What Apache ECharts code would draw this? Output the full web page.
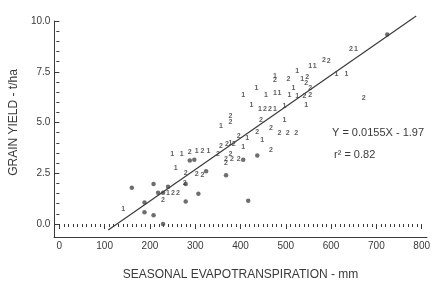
<!DOCTYPE html>
<html>
<head>
<meta charset="utf-8">
<script src="https://cdn.jsdelivr.net/npm/echarts@6/dist/echarts.min.js"></script>
<style>
  html, body { margin: 0; padding: 0; background: #fff; }
  #chart { width: 433px; height: 286px; }
</style>
</head>
<body>
<div id="chart"></div>
<script>
// tick labels
const xTicks = [0, 100, 200, 300, 400, 500, 600, 700, 800]
const yTicks = [0, 2.5, 5, 7.5, 10]

// filled dots
const dotX = [160, 188, 188, 208, 208, 229, 240, 279, 279, 307, 324, 368, 406, 437, 417, 288, 298, 724, 218, 229]
const dotY = [1.78, 1.06, 0.58, 0.43, 1.97, 0.0, 1.83, 1.97, 1.11, 1.49, 2.6, 2.4, 3.17, 3.37, 1.15, 3.13, 3.17, 9.33, 1.54, 1.54]

// points drawn as "1"
const oneX = [141, 249, 270, 257, 240, 357, 378, 415, 406, 448, 443, 476, 497, 435, 406, 456, 476, 486, 424, 497, 476, 525, 554, 564, 536, 508, 517, 525, 545, 612, 634, 655, 303, 329]
const oneY = [0.72, 3.46, 3.46, 2.74, 1.54, 4.81, 3.99, 4.23, 3.8, 4.13, 5.67, 5.67, 5.1, 6.68, 6.35, 6.35, 6.44, 6.44, 5.87, 5.82, 7.31, 7.55, 7.79, 7.79, 7.16, 6.35, 6.68, 6.3, 5.87, 7.4, 7.4, 8.6, 3.6, 3.6]

// points drawn as "2"
const twoX = [229, 279, 303, 316, 251, 262, 277, 288, 316, 350, 357, 370, 385, 396, 378, 368, 381, 396, 368, 378, 378, 445, 437, 467, 486, 504, 523, 467, 454, 465, 476, 506, 547, 545, 541, 554, 554, 584, 595, 644, 672]
const twoY = [1.2, 2.5, 2.45, 2.4, 1.54, 1.54, 2.02, 3.56, 3.6, 3.46, 3.85, 3.94, 3.94, 4.33, 3.46, 3.22, 3.22, 3.22, 2.98, 5.34, 5.0, 5.1, 4.52, 4.71, 4.47, 4.47, 4.47, 3.65, 5.67, 5.67, 7.07, 7.16, 7.26, 6.92, 6.3, 6.68, 6.35, 8.08, 8.03, 8.6, 6.2]

// fitted line ends
const fitX = [108, 788]
const fitY = [-0.3, 10.25]

const pairs = (xs, ys) => xs.map((x, i) => [x, ys[i]])

const ink = '#3a3a3a'
const narrow = '"Liberation Sans Narrow", "Arial Narrow", sans-serif'
const sans = '"Liberation Sans", Arial, sans-serif'

const chartDom = document.getElementById('chart')
const myChart = echarts.init(chartDom)

const digitSeries = (xs, ys, txt) => ({
  type: 'scatter',
  data: pairs(xs, ys),
  symbolSize: 2,
  itemStyle: { color: 'rgba(0,0,0,0)' },
  label: {
    show: true,
    position: 'inside',
    formatter: txt,
    fontSize: 7,
    fontWeight: 'bold',
    fontFamily: narrow,
    color: '#333'
  },
  silent: true
})

const option = {
  animation: false,
  // grid 0 holds the data, grid 1 only draws the axis lines that meet at the corner
  grid: [
    { left: 57, right: 6, top: 21, bottom: 57 },
    { left: 54, right: 6, top: 21, bottom: 49 }
  ],
  xAxis: [
    {
      gridIndex: 0, type: 'value', min: 0, max: 800, interval: 100, offset: 8,
      splitLine: { show: false },
      axisLine: { show: false },
      axisTick: { show: true, length: 5, lineStyle: { color: ink } },
      minorTick: { show: true, splitNumber: 10, length: 3, lineStyle: { color: ink } },
      axisLabel: {
        color: ink, fontSize: 10, fontFamily: narrow, margin: 9,
        formatter: v => xTicks.includes(v) ? String(v) : ''
      },
      name: 'SEASONAL EVAPOTRANSPIRATION - mm',
      nameLocation: 'middle',
      nameGap: 37,
      nameTextStyle: { color: ink, fontSize: 12, fontFamily: sans }
    },
    {
      gridIndex: 1, type: 'value', min: 0, max: 1,
      splitLine: { show: false },
      axisLine: { lineStyle: { color: ink, width: 1 } },
      axisTick: { show: false },
      axisLabel: { show: false }
    }
  ],
  yAxis: [
    {
      gridIndex: 0, type: 'value', min: 0, max: 10, interval: 2.5, offset: 3,
      splitLine: { show: false },
      axisLine: { show: false },
      axisTick: { show: true, length: 5, lineStyle: { color: ink } },
      minorTick: { show: true, splitNumber: 5, length: 3, lineStyle: { color: ink } },
      axisLabel: {
        color: ink, fontSize: 10, fontFamily: narrow, margin: 6,
        formatter: v => yTicks.includes(v) ? v.toFixed(1) : ''
      },
      name: 'GRAIN YIELD - t/ha',
      nameLocation: 'middle',
      nameGap: 22,
      nameTextStyle: { color: ink, fontSize: 12, fontFamily: sans }
    },
    {
      gridIndex: 1, type: 'value', min: 0, max: 1,
      splitLine: { show: false },
      axisLine: { show: true, lineStyle: { color: ink, width: 1 } },
      axisTick: { show: false },
      axisLabel: { show: false }
    }
  ],
  graphic: [
    {
      type: 'text', left: 332, top: 127,
      style: { text: 'Y = 0.0155X - 1.97', fontSize: 11, fill: ink, fontFamily: sans }
    },
    {
      type: 'text', left: 334, top: 149,
      style: { text: 'r² = 0.82', fontSize: 11, fill: ink, fontFamily: sans }
    }
  ],
  series: [
    {
      type: 'line',
      data: pairs(fitX, fitY),
      showSymbol: false,
      clip: false,
      lineStyle: { color: ink, width: 1.2 },
      silent: true
    },
    {
      type: 'scatter',
      data: pairs(dotX, dotY),
      symbolSize: 4.5,
      itemStyle: { color: '#4a4a4a' },
      silent: true
    },
    digitSeries(oneX, oneY, '1'),
    digitSeries(twoX, twoY, '2')
  ]
}
option && myChart.setOption(option)
</script>
</body>
</html>
